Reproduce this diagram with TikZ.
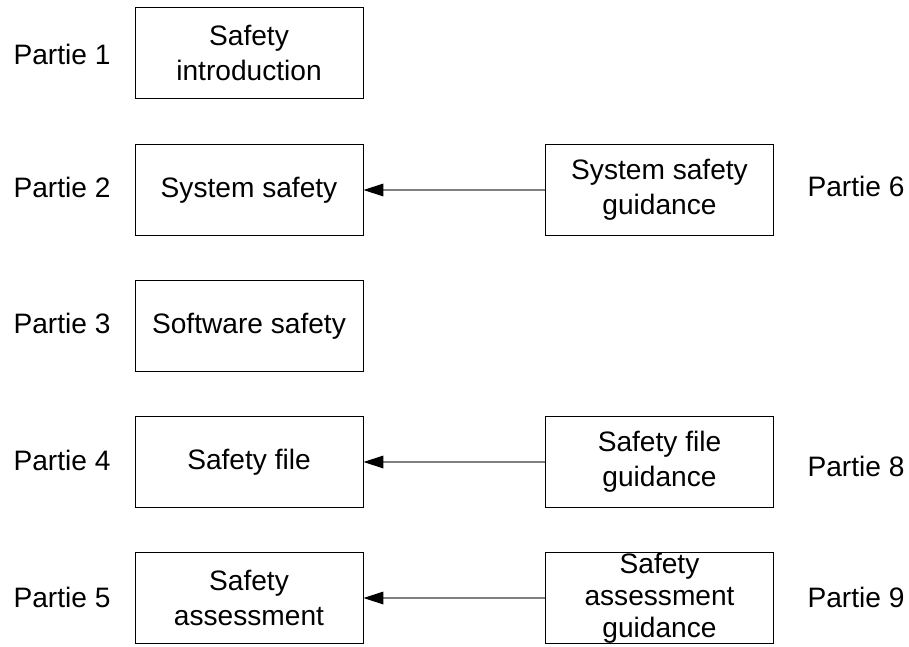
\documentclass[tikz,border=0pt]{standalone}
\usepackage{fontspec}
\setmainfont{Liberation Sans}
\usetikzlibrary{arrows.meta}

\begin{document}
\begin{tikzpicture}[x=0.03cm, y=-0.03cm,
	font=\fontsize{24}{30}\selectfont,
	partbox/.style={draw, line width=0.8pt, minimum width=228*0.03cm, minimum height=91*0.03cm, inner ysep=0pt, align=center},
	partlabel/.style={inner sep=0pt},
	guideline/.style={draw=gray, line width=1pt, -{Triangle[length=0.6cm, width=0.38cm, color=black]}}]
	% page: 909 x 646 px, 1 unit = 1 px
	\useasboundingbox (0, 0) rectangle (909, 646);
	% main parts - left column
	\node[partbox] (p1) at (249, 53) {Safety\\introduction};
	\node[partbox] (p2) at (249, 190) {System safety};
	\node[partbox] (p3) at (249, 326) {Software safety};
	\node[partbox] (p4) at (249, 462) {Safety file};
	\node[partbox] (p5) at (249, 598) {Safety\\assessment};
	\node[partlabel] (l1) at (62, 54) {Partie 1};
	\node[partlabel] (l2) at (62, 187) {Partie 2};
	\node[partlabel] (l3) at (62, 323) {Partie 3};
	\node[partlabel] (l4) at (62, 460) {Partie 4};
	\node[partlabel] (l5) at (62, 597) {Partie 5};
	% guidance parts - right column
	\node[partbox] (g6) at (659.5, 190) {System safety\\guidance};
	\node[partbox] (g8) at (659.5, 462) {Safety file\\guidance};
	\node[partbox, font=\fontsize{24}{27.5}\selectfont] (g9) at (659.5, 598) {Safety\\assessment\\guidance};
	\node[partlabel] (l6) at (856, 186) {Partie 6};
	\node[partlabel] (l8) at (856, 466) {Partie 8};
	\node[partlabel] (l9) at (856, 597) {Partie 9};
	% guidance -> part
	\draw[guideline] (g6.west) -- (p2.east);
	\draw[guideline] (g8.west) -- (p4.east);
	\draw[guideline] (g9.west) -- (p5.east);
\end{tikzpicture}
\end{document}
